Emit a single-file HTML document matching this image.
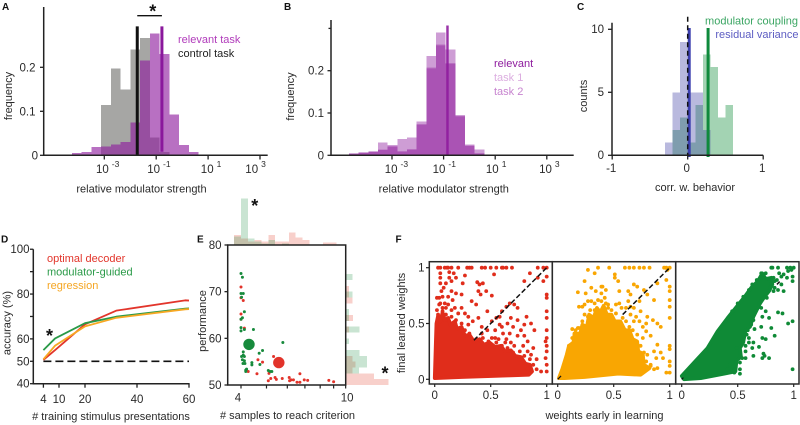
<!DOCTYPE html>
<html lang="en">
<head>
<meta charset="utf-8">
<title>Modulator strength figure</title>
<style>
html,body{margin:0;padding:0;background:#fff;}
svg{display:block;font-family:"Liberation Sans",sans-serif;fill:#2a2a2a;filter:blur(0.3px);}
.lab{font-size:11px;}
.pl{font-size:10px;font-weight:bold;fill:#111;}
.star{font-size:18px;font-weight:bold;fill:#111;text-anchor:middle;}
</style>
</head>
<body>
<svg id="fig" width="800" height="425" viewBox="0 0 800 425" xmlns="http://www.w3.org/2000/svg">
  <rect width="800" height="425" fill="#fff"/>
  <g id="pa"></g>
  <g id="pb"></g>
  <g id="pc"></g>
  <g id="pd"></g>
  <g id="pe"></g>
  <g id="pf"></g>

  <text class="pl" x="2" y="10">A</text>
  <text class="pl" x="284" y="10">B</text>
  <text class="pl" x="577" y="10">C</text>
  <text class="pl" x="1" y="242.5">D</text>
  <text class="pl" x="197" y="242.5">E</text>
  <text class="pl" x="395.5" y="242.5">F</text>

  <text class="lab" x="141.5" y="192.5" text-anchor="middle">relative modulator strength</text>
  <text class="lab" transform="translate(12,96) rotate(-90)" text-anchor="middle">frequency</text>
  <text class="lab" x="178" y="43" style="fill:#b13cbb">relevant task</text>
  <text class="lab" x="178" y="57" style="fill:#222">control task</text>
  <text class="star" x="152.7" y="17.5">*</text>

  <text class="lab" x="443.8" y="192.5" text-anchor="middle">relative modulator strength</text>
  <text class="lab" transform="translate(294,96.5) rotate(-90)" text-anchor="middle">frequency</text>
  <text class="lab" x="494" y="67" style="fill:#8e1c9e">relevant</text>
  <text class="lab" x="494" y="81" style="fill:#dcaee0">task 1</text>
  <text class="lab" x="494" y="95" style="fill:#c784cf">task 2</text>

  <text class="lab" x="695" y="191" text-anchor="middle">corr. w. behavior</text>
  <text class="lab" transform="translate(587,96) rotate(-90)" text-anchor="middle">counts</text>
  <text class="lab" x="798" y="24.5" text-anchor="end" style="fill:#3aa562">modulator coupling</text>
  <text class="lab" x="798.5" y="38" text-anchor="end" style="fill:#5c5cc2">residual variance</text>

  <text class="lab" x="111" y="420" text-anchor="middle"># training stimulus presentations</text>
  <text class="lab" transform="translate(10.5,323) rotate(-90)" text-anchor="middle">accuracy (%)</text>
  <text class="lab" x="47" y="262" style="fill:#e2352b">optimal decoder</text>
  <text class="lab" x="47" y="275.5" style="fill:#2a9a48">modulator-guided</text>
  <text class="lab" x="47" y="289" style="fill:#f5a623">regression</text>
  <text class="star" x="49.5" y="342">*</text>

  <text class="lab" x="287.5" y="419" text-anchor="middle"># samples to reach criterion</text>
  <text class="lab" transform="translate(206,321) rotate(-90)" text-anchor="middle">performance</text>
  <text class="star" x="254.7" y="212">*</text>
  <text class="star" x="385" y="379.5">*</text>

  <text class="lab" x="604.5" y="419" text-anchor="middle">weights early in learning</text>
  <text class="lab" transform="translate(405,323) rotate(-90)" text-anchor="middle">final learned weights</text>
</svg>

<script>
/* ---------- Panel A data ---------- */
const aBinStart = -4.627;
const aBinWidth = 0.3757;
const aRelevant = [.002,.005,.008,.019,.02,.025,.03,.075,.215,.277,.23,.093,.023,.008,.002,.001];
const aControl = [0,0,0,0,.114,.197,.150,.240,.267,.04,.008,0,0,0,0,0];
const aControlMean = -1.73;
const aRelevantMean = -0.78;
const aMeanTop = 0.293;
const aRelevantMeanBottom = 0.008;
const logTicks = [-3,-1,1,3];
const aYTicks = [0,0.1,0.2];

/* ---------- Panel B data ---------- */
const bBinStart = -4.667;
const bBinWidth = 0.3747;
const bRelevant = [.004,.007,.009,.012,.02,.008,.013,.072,.205,.26,.216,.092,.022,.003,.001];
const bTask1 = [.004,.007,.009,.03,.024,.038,.042,.08,.235,.29,.25,.095,.025,.014,.002];
const bTask2 = [.004,.007,.009,.014,.022,.01,.015,.074,.208,.262,.218,.093,.023,.005,.001];
const bMeans = [-0.87,-0.83];
const bMeanTop = 0.307;
const bYTicks = [0,0.1,0.2];
const bYMinorTicks = [0.3];

/* ---------- Panel C data ---------- */
const cBinStart = -0.3;
const cBinWidth = 0.1;
const cResidual = [1,5,9,5,5,2,0,0,0];
const cCoupling = [0,2,3,1,4,8,7,3,4];
const cResidualMean = 0.02;
const cCouplingMean = 0.27;
const cMeanTop = 10.1;
const cXTicks = [-1,0,1];
const cYTicks = [0,5,10];

/* ---------- Panel D data ---------- */
const dPresentations = [4,8.5,20,32,58.5,60];
const dOptimal = [50.6,55,66.5,72.6,77.2,77.1];
const dGuided = [55,60.2,67,69.9,73.5,73.6];
const dRegression = [50.9,57,65.6,69.4,73.2,73.3];
const dChance = 50;
const dXTicks = [4,10,20,40,60];
const dYTicks = [40,50,60,70,80,90,100];
const dYLabels = [40,50,60,80,100];

/* ---------- Panel E data ---------- */
const eRed = [[4,71],[4,68.7],[4.08,68.1],[4,65.2],[4,64.1],[4.12,62.2],[5.32,56.1],[4.26,52.9],[4.6,52.4],[4.64,55.4],[4.83,54.9],[5.11,52.5],[5.08,50.9],[5.19,51.4],[5.39,51.6],[5.45,51.2],[5.74,51.4],[6.1,51.6],[6.12,50.9],[6.2,51.1],[6.33,51.1],[6.53,50.6],[6.7,50.6],[6.7,52.4],[6.96,51.1],[7.17,51],[8.63,51],[9,50.7]];
const eGreen = [[4,73.9],[4.05,73.1],[4,69.6],[4.02,68.8],[4.08,69.6],[4.12,65.7],[4.05,64.4],[4,64.1],[4,62.3],[4,61.6],[4.12,61.9],[4.46,61.9],[5.77,59.1],[4.83,57.4],[4.69,56.8],[4.08,57.1],[4.08,56.4],[4.02,56.1],[4.12,56.1],[4.05,55.4],[4.12,55.2],[4.07,54.6],[4.14,54.6],[4.4,54.8],[4.4,54.3],[4.72,54.4],[4.17,53.2],[4.2,53.4],[4.17,52.9],[5.08,53.1],[5.16,52.9],[5.24,52.9]];
const eRedMean = [5.57,54.8];
const eGreenMean = [4.29,58.7];
const eTopBinStart = 0.576;
const eTopBinWidth = 0.026;
const eTopRed = [3,2,1,1.5,1,3,1,1,3.7,2.2,1.5,0,0,.7,.7];
const eTopGreen = [2.5,14,2,1,.5,1.5,0,.5,0,0,0,0,0,0,0];
const eRightBinStart = 50;
const eRightBinWidth = 1.25;
const eRightRed = [12.8,8.5,2,3,2,0,0,0,0,1,0,2.2,0,0,2,1,1,0,0];
const eRightGreen = [0,0,4,6.4,6.4,4.2,0,1,0,4.2,0,1,1,0,0,2,0,0,2];
const eXTicks = [4,5,6,7,8,9,10];
const eXLabels = [4,10];
const eYTicks = [50,60,70,80];

/* ---------- Panel F data ---------- */
const fXTicks = [0,0.5,1];
const fYTicks = [0,0.5,1];
const fRedDense = [[0,.01],[.01,.34],[.015,.5],[.03,.57],[.05,.52],[.07,.6],[.09,.53],[.12,.55],[.14,.49],[.18,.52],[.2,.45],[.24,.47],[.27,.39],[.31,.40],[.35,.34],[.40,.36],[.44,.31],[.49,.33],[.54,.29],[.59,.30],[.63,.25],[.68,.26],[.72,.21],[.77,.2],[.81,.14],[.85,.13],[.87,.07],[.84,.04],[.54,.03],[.24,.02]];
const fOrangeDense = [[.01,.01],[.04,.09],[.08,.22],[.10,.3],[.14,.33],[.15,.41],[.2,.41],[.22,.49],[.26,.47],[.28,.58],[.32,.55],[.35,.64],[.38,.6],[.41,.66],[.44,.58],[.48,.58],[.51,.52],[.56,.52],[.6,.44],[.64,.44],[.67,.36],[.71,.34],[.72,.25],[.76,.23],[.77,.13],[.82,.1],[.74,.04],[.54,.05],[.24,.02],[.06,.01]];
const fGreenDense = [[0,.03],[.11,.15],[.23,.28],[.32,.43],[.41,.55],[.49,.65],[.57,.75],[.62,.82],[.68,.88],[.72,.95],[.75,.9],[.8,.91],[.81,.85],[.78,.79],[.74,.74],[.7,.68],[.67,.62],[.64,.56],[.61,.47],[.57,.44],[.55,.33],[.52,.28],[.53,.2],[.49,.17],[.48,.07],[.38,.05],[.17,.01],[.02,0]];
const fRedPoints = [[.03,1],[.05,1],[.09,1],[.11,1],[.12,1],[.15,1],[.21,1],[.29,1],[.31,1],[.33,1],[.42,1],[.45,1],[.50,1],[.55,1],[.60,1],[.64,1],[.69,1],[.92,1],[.97,1],[1,1],[.05,.95],[.05,.91],[.05,.86],[.13,.96],[.17,.95],[.13,.91],[.10,.86],[.08,.82],[.15,.88],[.19,.91],[.25,.86],[.27,.93],[.38,.87],[.40,.85],[.43,.86],[.39,.79],[.41,.76],[.46,.79],[.51,.75],[.33,.70],[.37,.67],[.47,.61],[.39,.55],[.42,.47],[.53,.94],[.61,1],[.80,.88],[.85,.95],[.92,.91],[.97,.88],[1,.92],[1,.76],[1,.73],[1,.61],[1,.55],[.86,.50],[.89,.44],[1,.44],[1,.37],[.99,.34],[1,.30],[1,.25],[.99,.19],[1,.13],[1,.07],[.95,.07],[.91,.18],[.86,.22],[.83,.34],[.80,.39],[.77,.44],[.67,.68],[.71,.67],[.74,.64],[.64,.65],[.60,.61],[.55,.55],[.58,.56],[.51,.52],[.47,.44],[.42,.41],[.65,.50],[.70,.47],[.61,.41],[.67,.41],[.74,.39],[.58,.49],[.54,.44],[.64,.36],[.68,.33],[.57,.36],[.51,.37],[.24,.76],[.19,.77],[.15,.79],[.12,.74],[.06,.79],[.04,.73],[.09,.68],[.16,.71],[.24,.64],[.30,.56],[.34,.52],[.27,.59],[.07,.74],[.10,.64],[.04,.67],[.03,.58],[.07,.61],[.10,.58],[.15,.56],[.19,.53],[.13,.52],[.24,.50],[.27,.44],[.31,.41],[.22,.46],[.37,.36],[.43,.37],[.48,.34],[.55,.33],[.60,.30],[.65,.28],[.70,.24],[.76,.25],[.80,.21],[.85,.18],[.88,.13],[.91,.09],[.83,.09],[.02,.62],[.05,.68],[.02,.73],[.07,.64],[.12,.67],[.18,.64],[.21,.59],[.30,.49],[.15,.62],[.54,.37],[.63,.33],[.71,.30],[.79,.30],[.83,.25],[.88,.28],[.60,.47],[.68,.55],[.74,.53],[.80,.49],[.82,.56]];
const fOrangePoints = [[.18,.78],[.24,.88],[.27,.98],[.33,.95],[.36,1],[.46,1],[.51,.91],[.54,.88],[.60,1],[.64,1],[.68,1],[.73,1],[.77,1],[.82,1],[.95,1],[.97,1],[1,1],[.98,.98],[.25,.77],[.30,.82],[.34,.79],[.55,.79],[.51,.94],[.63,.79],[.65,.76],[.68,.85],[.71,.83],[.77,.80],[.80,.76],[.73,.70],[.68,.64],[.74,.61],[.70,.56],[.73,.52],[.80,.56],[.85,.53],[.89,.50],[.92,.47],[.86,.71],[1,.83],[1,.79],[1,.71],[1,.65],[1,.55],[.89,.86],[.97,.89],[1,.30],[1,.27],[.89,.31],[.86,.25],[.92,.24],[.88,.19],[.94,.19],[1,.16],[1,.12],[.97,.06],[1,.06],[.77,.07],[.13,.45],[.18,.46],[.22,.65],[.19,.65],[.27,.70],[.63,.70],[.61,.64],[.65,.58],[.79,.43],[.83,.39],[.76,.37],[.80,.22],[.83,.13],[.89,.10],[.57,.64],[.52,.67],[.43,.80],[.39,.83],[.45,.67],[.10,.30],[.15,.41],[.13,.37],[.19,.46],[.16,.44],[.24,.58],[.22,.52],[.27,.56],[.29,.62],[.33,.68],[.36,.71],[.39,.77],[.40,.83],[.42,.73],[.39,.70],[.43,.68],[.48,.62],[.45,.64],[.52,.59],[.58,.55],[.61,.52],[.64,.47],[.67,.44],[.71,.40],[.70,.33],[.74,.30],[.77,.24],[.79,.16],[.83,.12],[.86,.09],[.24,.67],[.30,.70],[.33,.62],[.55,.68],[.65,.65],[.68,.52],[.76,.47],[.79,.50]];
const fGreenPoints = [[.80,1],[.81,1],[.86,1],[.72,.94],[.75,.95],[.97,1],[1,1],[.98,.98],[.95,.97],[.91,.94],[.89,.92],[.99,.92],[.99,.88],[.91,.79],[.86,.60],[.90,.59],[.99,.52],[.95,.50],[.80,.46],[.71,.47],[.65,.45],[.78,.55],[.72,.56],[.75,.61],[.60,.37],[.72,.37],[.75,.36],[.83,.39],[.64,.33],[.69,.29],[.64,.21],[.73,.23],[.74,.21],[.72,.19],[.78,.19],[.99,.09],[.52,.09],[.52,.05],[.47,.09],[.47,.06],[.63,.28],[.58,.40],[.57,.30],[.83,.82],[.94,1],[.85,.89],[.82,.79],[.76,.73],[.60,.80],[.63,.85],[.67,.89],[.71,.95],[.73,.92],[.78,.90],[.82,.91],[.80,.86],[.83,.88],[.79,.82],[.75,.77],[.73,.73],[.69,.68],[.71,.64],[.66,.61],[.64,.53],[.62,.49],[.59,.44],[.60,.33],[.57,.25],[.54,.19],[.52,.15],[.57,.19],[.49,.28],[.43,.13],[.41,.09],[.87,.95],[.89,.85],[.86,.80],[.94,.91],[.55,.74],[.50,.68],[.45,.61],[.38,.50]];
const fDiagonalStart = [0.35,0.58,0.85];
const fDiagonalEnd = [1,1,0.875];
const fOriginDashEnd = [0,0.03,0.015];

/* ---------- Helpers ---------- */
const NS = 'http://www.w3.org/2000/svg';
const INK = '#222';
function add(parent, tag, attrs, name) {
  const el = document.createElementNS(NS, tag);
  for (const k in attrs) el.setAttribute(k, attrs[k]);
  
  
  parent.appendChild(el);
  return el;
}
function line(p, x1, y1, x2, y2, stroke, w, name, extra) {
  return add(p, 'line', Object.assign({x1:x1,y1:y1,x2:x2,y2:y2,stroke:stroke,'stroke-width':w}, extra||{}), name);
}
function label(p, x, y, txt, anchor, name) {
  const t = add(p, 'text', {x:x,y:y,'text-anchor':anchor,'font-size':11.5}, name);
  t.textContent = txt;
  return t;
}
function hist(p, start, width, values, sx, sy, fill, name, extra) {
  values.forEach(function (v, i) {
    if (!v) return;
    const x0 = sx(start + i * width), x1 = sx(start + (i + 1) * width), y = sy(v);
    add(p, 'rect', Object.assign({x:x0,y:y,width:x1-x0,height:sy(0)-y,fill:fill,'shape-rendering':'crispEdges'}, extra||{}), name + '-bar');
  });
}
function logTickLabels(p, ticks, sx, y, offsets, name) {
  ticks.forEach(function (t, i) {
    const el = add(p, 'text', {x:sx(t)+offsets[i],y:y,'font-size':11.5}, name + '-tick-label');
    el.appendChild(document.createTextNode('10'));
    const s = document.createElementNS(NS, 'tspan');
    s.setAttribute('dx', '3');
    s.setAttribute('dy', '-6');
    s.setAttribute('font-size', '8.5');
    s.textContent = String(t);
    el.appendChild(s);
  });
}
const $ = function (id) { return document.getElementById(id); };

/* ---------- Panel A ---------- */
(function () {
  const g = $('pa');
  const sx = function (v) { return 104.3 + (v + 3) * 25.95; };
  const sy = function (v) { return 155.3 - v * 440; };
  hist(g, aBinStart, aBinWidth, aControl, sx, sy, '#a6a6a4', 'control-task');
  hist(g, aBinStart, aBinWidth, aRelevant, sx, sy, 'rgb(142,28,158)', 'relevant-task', {'fill-opacity':0.63});
  line(g, sx(aControlMean), sy(aMeanTop), sx(aControlMean), sy(0), '#111', 3, 'control-task-mean');
  line(g, sx(aRelevantMean), sy(aMeanTop), sx(aRelevantMean), sy(aRelevantMeanBottom), '#8a189c', 3, 'relevant-task-mean');
  line(g, sx(aControlMean), 15.7, sx(aRelevantMean), 15.7, '#111', 1.4, 'significance-bracket');
  line(g, 43.7, 7, 43.7, 156, INK, 1.5, 'a-y-axis');
  line(g, 43, 155.3, 267.7, 155.3, INK, 1.5, 'a-x-axis');
  aYTicks.forEach(function (t) {
    line(g, 40, sy(t), 43.7, sy(t), INK, 1.3, 'a-y-tick');
    label(g, t === 0 ? 38 : 35.5, sy(t) + 4, String(t), 'end', 'a-y-tick-label');
  });
  logTicks.forEach(function (t) { line(g, sx(t), 155.3, sx(t), 159.5, INK, 1.3, 'a-x-tick'); });
  logTickLabels(g, logTicks, sx, 173, [-8.3,-9,-7.3,-14.7], 'a-x');
})();

/* ---------- Panel B ---------- */
(function () {
  const g = $('pb');
  const sx = function (v) { return 392 + (v + 3) * 25.8; };
  const sy = function (v) { return 155.3 - v * 423; };
  const fill = 'rgb(142,28,158)';
  hist(g, bBinStart, bBinWidth, bTask1, sx, sy, fill, 'task-1', {'fill-opacity':0.43});
  hist(g, bBinStart, bBinWidth, bTask2, sx, sy, fill, 'task-2', {'fill-opacity':0.35});
  hist(g, bBinStart, bBinWidth, bRelevant, sx, sy, fill, 'relevant', {'fill-opacity':0.35});
  bMeans.forEach(function (m) {
    line(g, sx(m), sy(bMeanTop), sx(m), sy(0), '#8e1c9e', 1.6, 'mean-line', {'stroke-opacity':0.8});
  });
  line(g, 331, 20, 331, 156, INK, 1.5, 'b-y-axis');
  line(g, 330.3, 155.3, 573.7, 155.3, INK, 1.5, 'b-x-axis');
  bYTicks.forEach(function (t) {
    line(g, 327.5, sy(t), 331, sy(t), INK, 1.3, 'b-y-tick');
    label(g, 324, sy(t) + 4, String(t), 'end', 'b-y-tick-label');
  });
  bYMinorTicks.forEach(function (t) { line(g, 328.5, sy(t), 331, sy(t), INK, 1.3, 'b-y-minor-tick'); });
  logTicks.forEach(function (t) { line(g, sx(t), 155.3, sx(t), 159.5, INK, 1.3, 'b-x-tick'); });
  logTickLabels(g, logTicks, sx, 173, [-7.3,-11,-9.3,-7.7], 'b-x');
})();

/* ---------- Panel C ---------- */
(function () {
  const g = $('pc');
  const sx = function (v) { return 687.7 + v * 75.5; };
  const sy = function (v) { return 155.3 - v * 12.6; };
  hist(g, cBinStart, cBinWidth, cCoupling, sx, sy, 'rgb(25,145,65)', 'modulator-coupling', {'fill-opacity':0.4});
  hist(g, cBinStart, cBinWidth, cResidual, sx, sy, 'rgb(65,65,165)', 'residual-variance', {'fill-opacity':0.37});
  line(g, sx(cCouplingMean), sy(cMeanTop), sx(cCouplingMean), 157, '#0f8a3c', 3, 'modulator-coupling-mean');
  line(g, sx(cResidualMean), sy(cMeanTop), sx(cResidualMean), 157, '#3c3fae', 3, 'residual-variance-mean');
  line(g, sx(0), 16.7, sx(0), 155.3, '#111', 1.5, 'zero-dashed-line', {'stroke-dasharray':'5 3.5'});
  line(g, 612, 22.7, 612, 156, INK, 1.5, 'c-y-axis');
  line(g, 611.3, 155.3, 763.2, 155.3, INK, 1.5, 'c-x-axis');
  cYTicks.forEach(function (t) {
    line(g, 608, sy(t), 612, sy(t), INK, 1.3, 'c-y-tick');
    label(g, 604, sy(t) + 3.6, String(t), 'end', 'c-y-tick-label');
  });
  cXTicks.forEach(function (t) {
    line(g, sx(t), 155.3, sx(t), 159.5, INK, 1.3, 'c-x-tick');
    label(g, sx(t) - 1, 172, String(t), 'middle', 'c-x-tick-label');
  });
})();

/* ---------- Panel D ---------- */
(function () {
  const g = $('pd');
  const sx = function (v) { return 43.4 + (v - 4) * 2.6; };
  const sy = function (v) { return 383.7 - (v - 40) * 2.241; };
  function path(ys, color, name) {
    const pts = dPresentations.map(function (x, i) { return sx(x) + ',' + sy(ys[i]); }).join(' ');
    add(g, 'polyline', {points:pts,fill:'none',stroke:color,'stroke-width':1.8,'stroke-linejoin':'round'}, name);
  }
  line(g, sx(dPresentations[0]), sy(dChance), sx(60), sy(dChance), '#111', 1.7, 'chance-dashed-line', {'stroke-dasharray':'8 4'});
  path(dOptimal, '#e2352b', 'optimal-decoder-line');
  path(dGuided, '#2a9a48', 'modulator-guided-line');
  path(dRegression, '#f7a823', 'regression-line');
  line(g, 33.3, sy(100), 33.3, sy(40) + 0.7, INK, 1.5, 'd-y-axis');
  line(g, 32.6, sy(40), sx(60) + 0.6, sy(40), INK, 1.5, 'd-x-axis');
  dYTicks.forEach(function (t) { line(g, 30, sy(t), 33.3, sy(t), INK, 1.3, 'd-y-tick'); });
  dYLabels.forEach(function (t) { label(g, 29.5, sy(t) + 4, String(t), 'end', 'd-y-tick-label'); });
  dXTicks.forEach(function (t) {
    line(g, sx(t), sy(40), sx(t), sy(40) + 4, INK, 1.3, 'd-x-tick');
    label(g, sx(t), 403, String(t), 'middle', 'd-x-tick-label');
  });
})();

/* ---------- Panel E ---------- */
(function () {
  const g = $('pe');
  const lg = function (v) { return Math.log(v) / Math.LN10; };
  const sx = function (v) { return 241 + (lg(v) - lg(4)) * 263; };
  const sy = function (v) { return 385 - (v - 50) * 4.667; };
  const topX = function (l) { return 241 + (l - lg(4)) * 263; };
  const topY = function (c) { return 245 - c * 3.33; };
  const redFill = 'rgb(226,50,30)', greenFill = 'rgb(20,140,60)';
  function topHist(vals, fill, name) {
    vals.forEach(function (c, i) {
      if (!c) return;
      const x0 = topX(eTopBinStart + i * eTopBinWidth), x1 = topX(eTopBinStart + (i + 1) * eTopBinWidth);
      add(g, 'rect', {x:x0,y:topY(c),width:x1-x0,height:245-topY(c),fill:fill,'fill-opacity':0.23,'shape-rendering':'crispEdges'}, name);
    });
  }
  function rightHist(vals, fill, name) {
    vals.forEach(function (c, i) {
      if (!c) return;
      const y1 = sy(eRightBinStart + i * eRightBinWidth), y0 = sy(eRightBinStart + (i + 1) * eRightBinWidth);
      add(g, 'rect', {x:345.7,y:y0,width:c*3.33,height:y1-y0,fill:fill,'fill-opacity':0.23,'shape-rendering':'crispEdges'}, name);
    });
  }
  topHist(eTopRed, redFill, 'top-marginal-red-bar');
  topHist(eTopGreen, greenFill, 'top-marginal-green-bar');
  rightHist(eRightRed, redFill, 'right-marginal-red-bar');
  rightHist(eRightGreen, greenFill, 'right-marginal-green-bar');
  add(g, 'rect', {x:227.7,y:245,width:118,height:140,fill:'#fff',stroke:INK,'stroke-width':1.5}, 'e-plot-frame');
  eRed.forEach(function (p) { add(g, 'circle', {cx:sx(p[0]),cy:sy(p[1]),r:1.5,fill:'#e2332a'}, 'red-point'); });
  eGreen.forEach(function (p) { add(g, 'circle', {cx:sx(p[0]),cy:sy(p[1]),r:1.5,fill:'#178a3c'}, 'green-point'); });
  add(g, 'circle', {cx:sx(eRedMean[0]),cy:sy(eRedMean[1]),r:5.7,fill:'#e2332a'}, 'red-mean-point');
  add(g, 'circle', {cx:sx(eGreenMean[0]),cy:sy(eGreenMean[1]),r:5.7,fill:'#178a3c'}, 'green-mean-point');
  eYTicks.forEach(function (t) {
    line(g, 224.5, sy(t), 227.7, sy(t), INK, 1.3, 'e-y-tick');
    label(g, 221.5, sy(t) + 4, String(t), 'end', 'e-y-tick-label');
  });
  eXTicks.forEach(function (t) { line(g, sx(t), 385, sx(t), 388.5, INK, 1.2, 'e-x-tick'); });
  eXLabels.forEach(function (t) { label(g, t === 4 ? sx(t) - 3 : sx(t) + 1.5, 401.5, String(t), 'middle', 'e-x-tick-label'); });
})();

/* ---------- Panel F ---------- */
(function () {
  const g = $('pf');
  const sy = function (v) { return 379.3 - v * 111.6; };
  const panels = [
    {left:429.3,right:552.3,x0:434.7,color:'#e02d1b',dense:fRedDense,pts:fRedPoints,name:'red'},
    {left:552.3,right:675.7,x0:557.7,color:'#f9a602',dense:fOrangeDense,pts:fOrangePoints,name:'orange'},
    {left:675.7,right:799,x0:681.7,color:'#0f8a36',dense:fGreenDense,pts:fGreenPoints,name:'green'}
  ];
  panels.forEach(function (pn, idx) {
    const sx = function (v) { return pn.x0 + v * 112; };
    const pts = pn.dense.map(function (p) { return sx(p[0]) + ',' + sy(p[1]); }).join(' ');
    add(g, 'polygon', {points:pts,fill:pn.color,stroke:pn.color,'stroke-width':3.6,'stroke-linejoin':'round'}, pn.name + '-dense-scatter-region');
    pn.pts.forEach(function (p) {
      add(g, 'circle', {cx:sx(p[0]),cy:sy(p[1]),r:1.9,fill:pn.color}, pn.name + '-scatter-point');
    });
    const d = fDiagonalStart[idx], e = fDiagonalEnd[idx], o = fOriginDashEnd[idx];
    line(g, sx(d), sy(d), sx(e), sy(e), '#111', 1.5, pn.name + '-diagonal-dashed', {'stroke-dasharray':'5 2.5'});
    if (o) line(g, sx(0), sy(0), sx(o), sy(o), '#111', 1.2, pn.name + '-diagonal-origin-dash');
    add(g, 'rect', {x:pn.left,y:261.7,width:pn.right-pn.left,height:122.3,fill:'none',stroke:'#2a2a2a','stroke-width':1.5}, pn.name + '-plot-frame');
    fXTicks.forEach(function (t) {
      line(g, sx(t), 384, sx(t), 387, INK, 1.2, pn.name + '-x-tick');
      label(g, sx(t), 399, String(t), 'middle', pn.name + '-x-tick-label');
    });
  });
  fYTicks.forEach(function (t) {
    line(g, 426, sy(t), 429.3, sy(t), INK, 1.2, 'f-y-tick');
    label(g, 424.5, sy(t) + 4, String(t), 'end', 'f-y-tick-label');
  });
})();
</script>
</body>
</html>
